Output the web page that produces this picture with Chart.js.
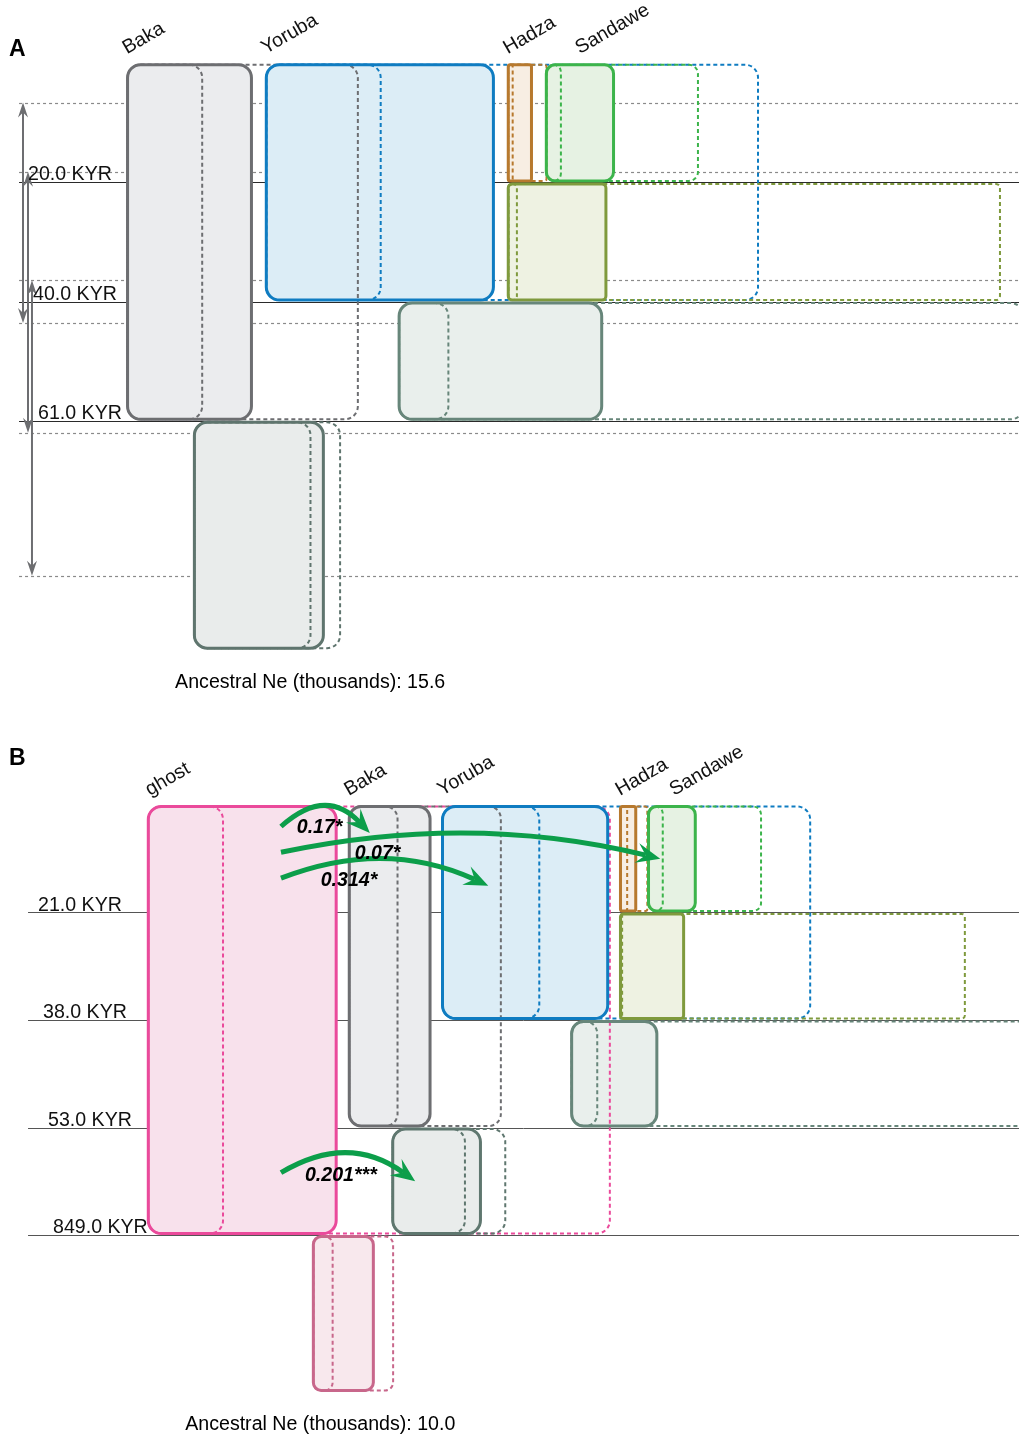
<!DOCTYPE html>
<html>
<head>
<meta charset="utf-8">
<script src="https://cdn.jsdelivr.net/npm/chart.js@4.4.1/dist/chart.umd.min.js"></script>
<style>
body { margin: 0; background: #fff; }
#wrap { position: relative; width: 1019px; height: 1437px; }
canvas { position: absolute; left: 0; }
#chartA { top: 0; }
#chartB { top: 718px; }
</style>
</head>
<body>
<div id="wrap">
  <canvas id="chartA" width="1019" height="718"></canvas>
  <canvas id="chartB" width="1019" height="719"></canvas>
</div>
<script>
// ---- Panel A data (Ne in thousands, time in epoch index) ----
const popsA   = ['Baka', 'Yoruba', 'Hadza', 'Sandawe', 'Hadza-Sandawe', 'Yoruba-EastAfrica', 'Ancestral'];
const neA     = [15.0, 27.2, 3.1, 8.3, 11.9, 24.3, 15.6];
const neLowA  = [9.0, 13.7, 0.7, 1.9, 1.2, 6.0, 13.9];
const neHighA = [27.4, 58.3, 4.7, 18.1, 58.3, 74.0, 17.4];
const topA    = [0, 0, 0, 0, 1, 2, 3];
const bottomA = [3, 2, 1, 1, 2, 3, 4.92];
const timeTicksA  = [1, 2, 3];
const timeLabelsA = ['20.0 KYR', '40.0 KYR', '61.0 KYR'];
const timeCILowA  = [0.33, 0.91, 1.82];
const timeCIHighA = [2.18, 3.10, 4.30];
const ancestralA  = 15.6;

// ---- Panel B data ----
const popsB   = ['ghost', 'Baka', 'Yoruba', 'Hadza', 'Sandawe', 'Hadza-Sandawe', 'Yoruba-EastAfrica', 'Baka-YEA', 'Ancestral'];
const neB     = [30.3, 13.3, 26.7, 2.9, 7.9, 10.5, 14.0, 14.4, 10.0];
const neLowB  = [12.1, 7.9, 15.6, 1.3, 2.5, 0.5, 4.3, 11.7, 3.3];
const neHighB = [73.5, 24.3, 58.6, 4.5, 18.1, 54.9, 73.0, 18.1, 12.9];
const topB    = [0, 0, 0, 0, 0, 1, 2, 3, 4];
const bottomB = [4, 3, 2, 1, 1, 2, 3, 4, 5.46];
const timeTicksB  = [1, 2, 3, 4];
const timeLabelsB = ['21.0 KYR', '38.0 KYR', '53.0 KYR', '849.0 KYR'];
const ancestralB  = 10.0;

// migrations (panel B), from ghost
const migTo      = ['Baka', 'Sandawe', 'Yoruba', 'Baka-YEA'];
const migRates   = ['0.17*', '0.07*', '0.314*', '0.201***'];
const migTime    = [0.20, 0.44, 0.68, 3.42];
const migEndTime = [0.26, 0.50, 0.75, 3.50];

// ---- layout (x anchors in Ne units, styling) ----
const leftA = [14.9, 31.3, 59.9, 64.4, 59.9, 47.0, 22.8];
const leftB = [23.3, 55.2, 70.0, 98.25, 102.7, 98.25, 90.5, 62.1, 49.5];
const migStartX = [44.6, 44.6, 44.6, 44.6];
const migEndX   = [58.7, 104.8, 77.5, 65.9];
const migLabelX = [47.1, 56.3, 50.9, 48.4];

const style = {
  Baka:     { stroke: '#6d6e71', fill: '#ebecee' },
  Yoruba:   { stroke: '#0f7cc1', fill: '#dcedf6' },
  Hadza:    { stroke: '#b7792e', fill: '#f7eee3' },
  Sandawe:  { stroke: '#3cb44b', fill: '#e6f2e3' },
  'Hadza-Sandawe':     { stroke: '#7f9a3d', fill: '#eef2e2' },
  'Yoruba-EastAfrica': { stroke: '#67867a', fill: '#e9efec' },
  'Baka-YEA':          { stroke: '#5f776f', fill: '#e9eceb' },
  ghost:    { stroke: '#ea4a9b', fill: '#f8e1ec' }
};
const radiusA = [13, 13, 2, 9, 4, 13, 13];
const radiusB = [13, 12, 13, 2, 8, 3, 12, 13, 8];
const labelShiftA = { Sandawe: 34 };
const labelShiftB = { Sandawe: 26, ghost: 2 };
const FONT = '"Liberation Sans", Arial, Helvetica, sans-serif';
const TXT = '19.6px ' + FONT;
const GREEN = '#0c9e4a';

function rr(ctx, x0, y0, x1, y1, r) {
  const w = x1 - x0, h = y1 - y0;
  r = Math.max(0, Math.min(r, w / 2, h / 2));
  ctx.beginPath();
  ctx.moveTo(x0 + r, y0);
  ctx.lineTo(x1 - r, y0);
  ctx.arcTo(x1, y0, x1, y0 + r, r);
  ctx.lineTo(x1, y1 - r);
  ctx.arcTo(x1, y1, x1 - r, y1, r);
  ctx.lineTo(x0 + r, y1);
  ctx.arcTo(x0, y1, x0, y1 - r, r);
  ctx.lineTo(x0, y0 + r);
  ctx.arcTo(x0, y0, x0 + r, y0, r);
  ctx.closePath();
}

function arrowHead(ctx, tx, ty, ang, len, half, notch) {
  const c = Math.cos(ang), s = Math.sin(ang);
  const pt = (a, b) => [tx - a * c + b * s, ty - a * s - b * c];
  const p1 = pt(len, half), p2 = pt(len - notch, 0), p3 = pt(len, -half);
  ctx.beginPath();
  ctx.moveTo(tx, ty);
  ctx.lineTo(p1[0], p1[1]);
  ctx.lineTo(p2[0], p2[1]);
  ctx.lineTo(p3[0], p3[1]);
  ctx.closePath();
  ctx.fill();
}

const demesPlugin = {
  id: 'demes',
  afterDraw(chart) {
    const m = chart.options.plugins.demes;
    const ctx = chart.ctx, xs = chart.scales.x, ys = chart.scales.y;
    const X = v => xs.getPixelForValue(v);
    const Y = v => ys.getPixelForValue(v);
    ctx.save();

    // time CI dotted lines
    ctx.strokeStyle = '#8a8a8a';
    ctx.lineWidth = 1.2;
    ctx.setLineDash([3, 3]);
    (m.ciLow || []).concat(m.ciHigh || []).forEach(t => {
      const y = Math.round(Y(t)) + 0.5;
      ctx.beginPath(); ctx.moveTo(X(m.lineStart), y); ctx.lineTo(xs.right, y); ctx.stroke();
    });
    ctx.setLineDash([]);

    // epoch lines
    ctx.strokeStyle = m.lineColor;
    ctx.lineWidth = 1;
    m.ticks.forEach(t => {
      const y = Math.round(Y(t)) + 0.5;
      ctx.beginPath(); ctx.moveTo(X(m.lineStart), y); ctx.lineTo(xs.right, y); ctx.stroke();
    });

    // time CI arrows
    if (m.ciLow) {
      ctx.strokeStyle = '#6d6e71';
      ctx.fillStyle = '#6d6e71';
      ctx.lineWidth = 2;
      m.ciLow.forEach((lo, i) => {
        const x = X(m.ciX[i]), y0 = Y(lo), y1 = Y(m.ciHigh[i]);
        ctx.beginPath(); ctx.moveTo(x, y0 + 8); ctx.lineTo(x, y1 - 8); ctx.stroke();
        arrowHead(ctx, x, y0, -Math.PI / 2, 15, 5, 5);
        arrowHead(ctx, x, y1, Math.PI / 2, 15, 5, 5);
      });
    }

    const box = i => {
      const lw = 3;
      return {
        x0: X(m.left[i]) + lw / 2, x1: X(m.left[i] + m.ne[i]) - lw / 2,
        y0: Y(m.top[i]) + lw / 2, y1: Y(m.bottom[i]) - lw / 2
      };
    };
    const col = i => style[m.pops[i]] || m.rootStyle;

    // fills
    m.pops.forEach((p, i) => {
      const b = box(i);
      rr(ctx, b.x0, b.y0, b.x1, b.y1, m.radius[i]);
      ctx.fillStyle = col(i).fill;
      ctx.fill();
    });

    // Ne confidence rects (dashed)
    ctx.lineWidth = 2;
    ctx.setLineDash([4, 3]);
    m.pops.forEach((p, i) => {
      const b = box(i);
      ctx.strokeStyle = col(i).stroke;
      [m.neLow[i], m.neHigh[i]].forEach(v => {
        rr(ctx, b.x0, b.y0, X(m.left[i] + v), b.y1, m.radius[i]);
        ctx.stroke();
      });
    });
    ctx.setLineDash([]);

    // box outlines
    ctx.lineWidth = 3;
    m.pops.forEach((p, i) => {
      const b = box(i);
      rr(ctx, b.x0, b.y0, b.x1, b.y1, m.radius[i]);
      ctx.strokeStyle = col(i).stroke;
      ctx.stroke();
    });

    // time labels
    ctx.fillStyle = '#111';
    ctx.font = TXT;
    ctx.textAlign = 'left';
    ctx.textBaseline = 'alphabetic';
    m.ticks.forEach((t, i) => {
      ctx.fillText(m.labels[i], m.labelX + i * m.labelStep, Y(t) - 2);
    });

    // population labels (leaf populations only)
    m.pops.forEach((p, i) => {
      if (m.top[i] !== 0) return;
      ctx.save();
      ctx.translate(X(m.left[i]) + 1 + (m.labelShift[p] || 0), Y(0) - 9);
      ctx.rotate(-Math.PI / 6);
      ctx.fillText(p, 0, 0);
      ctx.restore();
    });

    // migrations
    (m.migTo || []).forEach((to, i) => {
      const x0 = X(migStartX[i]), y0 = Y(migTime[i]);
      const x1 = X(migEndX[i]), y1 = Y(migEndTime[i]);
      const cx = (x0 + x1) / 2, cy = Math.min(y0, y1) - 40;
      const ang = Math.atan2(y1 - cy, x1 - cx);
      const len = 24;
      const ex = x1 - Math.cos(ang) * (len - 9), ey = y1 - Math.sin(ang) * (len - 9);
      ctx.strokeStyle = GREEN;
      ctx.fillStyle = GREEN;
      ctx.lineWidth = 5;
      ctx.beginPath(); ctx.moveTo(x0, y0); ctx.quadraticCurveTo(cx, cy, ex, ey); ctx.stroke();
      arrowHead(ctx, x1, y1, ang, len, 10, 9);
    });
    (m.migTo || []).forEach((to, i) => {
      ctx.fillStyle = '#000';
      ctx.font = 'italic bold 19.6px ' + FONT;
      ctx.fillText(migRates[i], X(migLabelX[i]), Y(migEndTime[i]));
    });

    // panel letter and ancestral Ne
    ctx.fillStyle = '#000';
    ctx.font = 'bold 23px ' + FONT;
    ctx.fillText(m.letter, 9, Y(m.letterY));
    ctx.font = TXT;
    const r = m.pops.length - 1;
    ctx.fillText('Ancestral Ne (thousands): ' + m.ancestral.toFixed(1), X(m.ancX), Y(m.bottom[r]) + 38);
    ctx.restore();
  }
};

function makeChart(id, m) {
  return new Chart(document.getElementById(id), {
    type: 'scatter',
    data: { datasets: [] },
    options: {
      responsive: false,
      animation: false,
      devicePixelRatio: 1,
      layout: { padding: 0 },
      plugins: { legend: { display: false }, tooltip: { enabled: false }, demes: m },
      scales: {
        x: { type: 'linear', display: false, min: 0, max: m.xMax },
        y: { type: 'linear', display: false, reverse: true, min: m.yMin, max: m.yMax }
      }
    },
    plugins: [demesPlugin]
  });
}

makeChart('chartA', {
  pops: popsA, ne: neA, neLow: neLowA, neHigh: neHighA, top: topA, bottom: bottomA,
  left: leftA, radius: radiusA, labelShift: labelShiftA,
  rootStyle: { stroke: '#5f756e', fill: '#e9eceb' },
  ticks: timeTicksA, labels: timeLabelsA, labelX: 28, labelStep: 5,
  ciLow: timeCILowA, ciHigh: timeCIHighA, ciX: [2.72, 3.31, 3.78],
  lineStart: 2.25, lineColor: '#2a2a2a',
  letter: 'A', letterY: -0.06, ancestral: ancestralA, ancX: 20.7,
  xMax: 1019 / 8.46, yMin: -63.2 / 119.2, yMax: (718 - 63.2) / 119.2
});

makeChart('chartB', {
  pops: popsB, ne: neB, neLow: neLowB, neHigh: neHighB, top: topB, bottom: bottomB,
  left: leftB, radius: radiusB, labelShift: labelShiftB,
  rootStyle: { stroke: '#c8678b', fill: '#f8e8ed' },
  ticks: timeTicksB, labels: timeLabelsB, labelX: 38, labelStep: 5,
  migTo: migTo,
  lineStart: 4.45, lineColor: '#555',
  letter: 'B', letterY: -0.37, ancestral: ancestralB, ancX: 29.4,
  xMax: 1019 / 6.3, yMin: -87 / 107.5, yMax: (719 - 87) / 107.5
});
</script>
</body>
</html>
